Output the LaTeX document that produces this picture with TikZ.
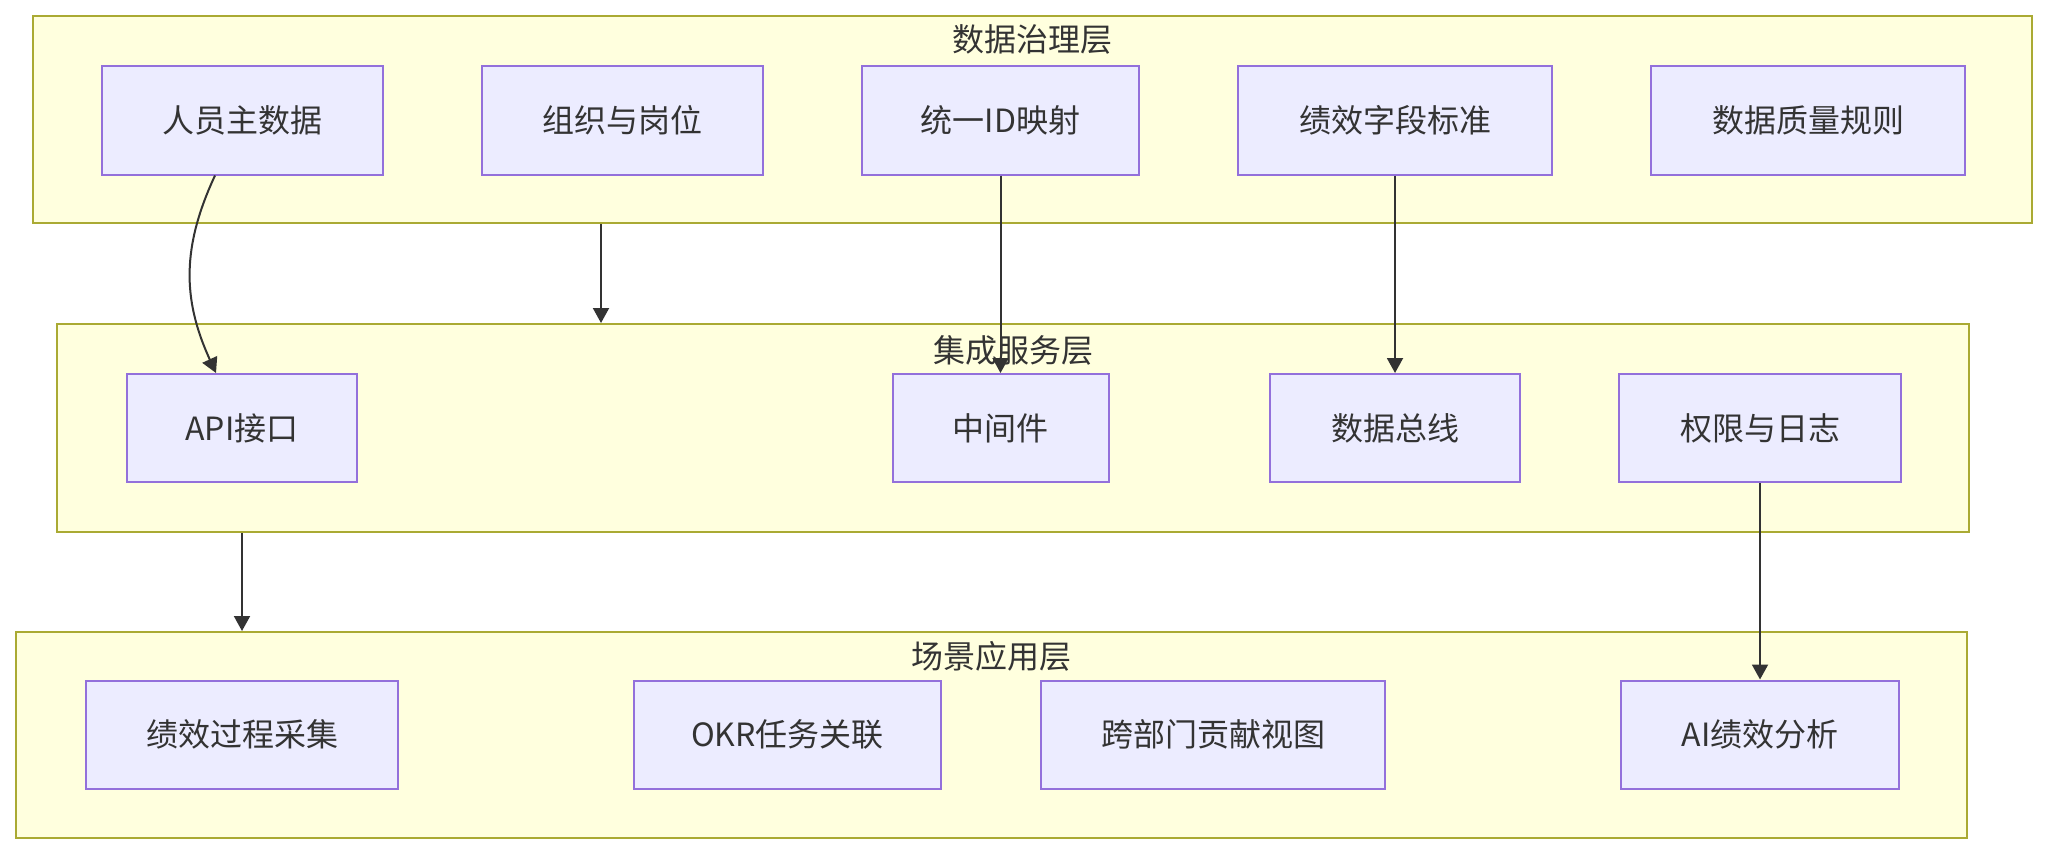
\documentclass[tikz,border=0pt]{standalone}
\usepackage{fontspec}
\setmainfont{Noto Sans CJK SC}
\usetikzlibrary{arrows.meta}
\definecolor{grpfill}{HTML}{FFFFDE}
\definecolor{grpline}{HTML}{AAAA33}
\definecolor{boxfill}{HTML}{ECECFF}
\definecolor{boxline}{HTML}{9370DB}
\definecolor{txt}{HTML}{333333}
\tikzset{
  grp/.style={draw=grpline, fill=grpfill, line width=1pt, inner sep=0pt},
  grptitle/.style={text=txt, font=\fontsize{16pt}{19pt}\selectfont, inner sep=0pt},
  box/.style={draw=boxline, fill=boxfill, line width=1pt, inner sep=0pt,
    minimum height=54pt, text=txt, font=\fontsize{16pt}{19pt}\selectfont},
  arr/.style={draw=txt, line width=1pt, -{Triangle[length=7.5pt,width=8pt]}}
}
\begin{document}
\begin{tikzpicture}[x=0.5pt,y=-0.5pt]
\useasboundingbox (0,0) rectangle (2048,856);
% groups
\node[grp, minimum width=999.5pt, minimum height=103.5pt] (g1) at (1032.5,119.5) {};
\node[grp, minimum width=956pt, minimum height=104pt] (g2) at (1013,428) {};
\node[grp, minimum width=975.5pt, minimum height=103pt] (g3) at (991.5,735) {};
\node[grptitle] (t1) at (1032.5,39) {数据治理层};
\node[grptitle] (t2) at (1013,350) {集成服务层};
\node[grptitle] (t3) at (991.5,656) {场景应用层};
% row 1
\node[box, minimum width=140.5pt] (p1) at (242.5,120.5) {人员主数据};
\node[box, minimum width=140.5pt] (p2) at (622,120.5) {组织与岗位};
\node[box, minimum width=138.5pt] (p3) at (1000.5,120.5) {统一ID映射};
\node[box, minimum width=157pt] (p4) at (1395,120.5) {绩效字段标准};
\node[box, minimum width=157pt] (p5) at (1808,120.5) {数据质量规则};
% row 2
\node[box, minimum width=115pt] (api) at (242,428) {API接口};
\node[box, minimum width=108pt] (mid) at (1000.5,428) {中间件};
\node[box, minimum width=125pt] (bus) at (1395,428) {数据总线};
\node[box, minimum width=141pt] (perm) at (1760,428) {权限与日志};
% row 3
\node[box, minimum width=156pt] (q1) at (242,734.5) {绩效过程采集};
\node[box, minimum width=153.5pt] (q2) at (787.5,734.5) {OKR任务关联};
\node[box, minimum width=172pt] (q3) at (1213,734.5) {跨部门贡献视图};
\node[box, minimum width=139pt] (q4) at (1760,734.5) {AI绩效分析};
% connectors
\draw[arr] ([xshift=-13.75pt]p1.south) .. controls +(-33,71) and +(-34,-74) .. ([xshift=-13pt]api.north);
\draw[arr] ([xshift=-215.75pt]g1.south) -- ([xshift=-215.75pt]g1.south |- g2.north);
\draw[arr] (p3.south) -- (p3.south |- mid.north);
\draw[arr] (p4.south) -- (bus.north);
\draw[arr] (api |- g2.south) -- (api |- g3.north);
\draw[arr] (perm.south) -- (q4.north);
\end{tikzpicture}
\end{document}
